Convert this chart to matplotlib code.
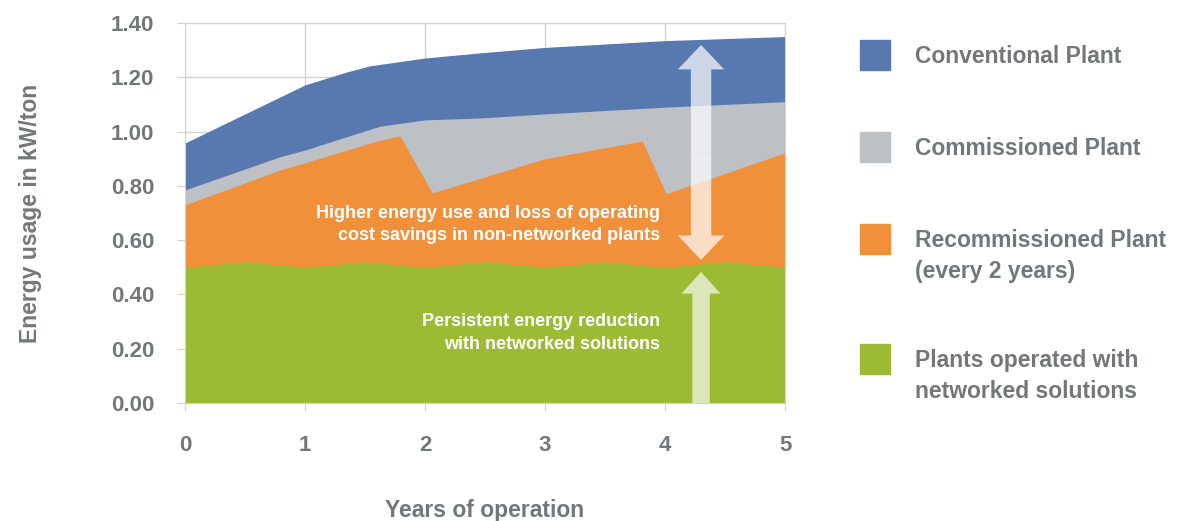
import matplotlib.pyplot as plt
from matplotlib.patches import Rectangle

plt.rcParams['font.family'] = ['Liberation Sans', 'DejaVu Sans']

# ---------- DATA ----------
x_conv = [0, 0.5, 1, 1.35, 1.54, 2, 2.46, 3, 4, 5]
conventional = [0.958, 1.065, 1.172, 1.22, 1.242, 1.271, 1.29, 1.31, 1.335, 1.35]

x_comm = [0, 0.79, 1, 1.625, 2, 2.46, 3, 4, 5]
commissioned = [0.785, 0.907, 0.932, 1.02, 1.043, 1.05, 1.065, 1.09, 1.11]

x_recomm = [0, 0.79, 1, 1.6, 1.79, 2.06, 3, 3.81, 4.01, 5]
recommissioned = [0.73, 0.858, 0.885, 0.965, 0.985, 0.774, 0.90, 0.965, 0.771, 0.922]

x_net = [0, 0.5, 1, 1.5, 2, 2.5, 3, 3.5, 4, 4.5, 5]
networked = [0.50, 0.52, 0.50, 0.52, 0.50, 0.52, 0.50, 0.52, 0.50, 0.52, 0.50]

labels = ["Conventional Plant", "Commissioned Plant",
          "Recommissioned Plant\n(every 2 years)",
          "Plants operated with\nnetworked solutions"]
colors = ["#5878B0", "#BDC0C4", "#F0903B", "#9DBA35"]

yticks = [0.0, 0.2, 0.4, 0.6, 0.8, 1.0, 1.2, 1.4]
xticks = [0, 1, 2, 3, 4, 5]

txt_gray = "#72777a"
grid_gray = "#d2d2d2"

# ---------- FIGURE ----------
fig = plt.figure(figsize=(11.83, 5.21), dpi=100)
ax = fig.add_axes([0.1564, 0.2265, 0.5072, 0.7294])

series = [(x_conv, conventional), (x_comm, commissioned),
          (x_recomm, recommissioned), (x_net, networked)]
for (xs, ys), c in zip(series, colors):
    ax.fill_between(xs, 0, ys, color=c, linewidth=0, zorder=2)

# arrows
arrow_x = 4.3
mid = 0.92
ax.arrow(arrow_x, mid, 0, 1.319 - mid, width=0.17, head_width=0.386,
         head_length=0.09, length_includes_head=True, color="white",
         alpha=0.7, linewidth=0, zorder=3)
ax.arrow(arrow_x, mid, 0, 0.527 - mid, width=0.17, head_width=0.386,
         head_length=0.09, length_includes_head=True, color="white",
         alpha=0.7, linewidth=0, zorder=3)
ax.arrow(arrow_x, 0, 0, 0.483, width=0.145, head_width=0.325,
         head_length=0.08, length_includes_head=True, color="white",
         alpha=0.65, linewidth=0, zorder=3)

ax.text(3.96, 0.657, "Higher energy use and loss of operating\ncost savings in non-networked plants",
        ha="right", va="center", color="white", fontsize=13, fontweight="bold",
        linespacing=1.4, zorder=4)
ax.text(3.96, 0.258, "Persistent energy reduction\nwith networked solutions",
        ha="right", va="center", color="white", fontsize=13, fontweight="bold",
        linespacing=1.4, zorder=4)

ax.set_xlim(0, 5)
ax.set_ylim(0, 1.4)
ax.set_xticks(xticks)
ax.set_yticks(yticks)
ax.set_yticklabels([f"{v:.2f}" for v in yticks])
ax.grid(True, color=grid_gray, linewidth=1)
ax.set_axisbelow(True)
for s in ax.spines.values():
    s.set_color(grid_gray)
ax.tick_params(colors=grid_gray, length=6, labelcolor=txt_gray, labelsize=16)
for lab in ax.get_xticklabels() + ax.get_yticklabels():
    lab.set_fontweight("bold")
ax.tick_params(axis="x", pad=17)
ax.tick_params(axis="y", pad=16)

ax.set_ylabel("Energy usage in kW/ton", fontsize=16.5, fontweight="bold", color=txt_gray, labelpad=50)
ax.set_xlabel("Years of operation", fontsize=16.5, fontweight="bold", color=txt_gray, labelpad=31)

# legend
leg_y = [55, 147, 239, 359]
for lab, c, py in zip(labels, colors, leg_y):
    fy = 1 - py / 521
    fig.patches.append(Rectangle((860 / 1183, fy - 15 / 521), 30 / 1183, 30 / 521,
                                 transform=fig.transFigure, color=c))
    fig.text(915 / 1183, fy + 10 / 521, lab, ha="left", va="top", fontsize=16.5,
             fontweight="bold", color=txt_gray, linespacing=1.42)

plt.savefig("out.png", dpi=100)
